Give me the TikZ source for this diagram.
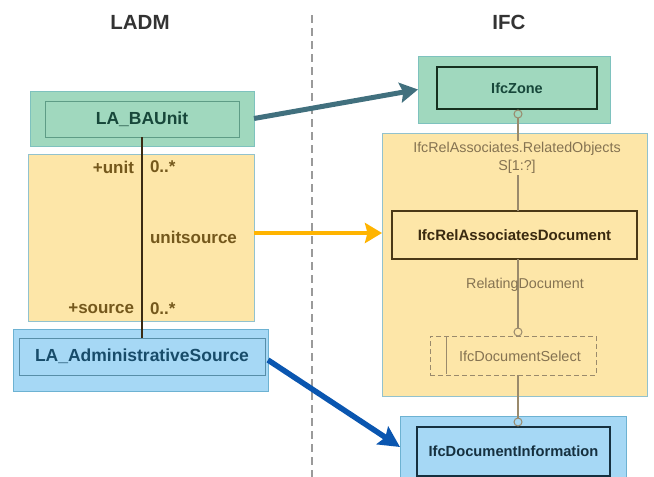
\documentclass[tikz,border=0pt]{standalone}
\usepackage{fontspec}
\setmainfont{Liberation Sans}
\usetikzlibrary{arrows.meta,fit}

\definecolor{ladmgreen}{HTML}{A0D8BE}
\definecolor{greenedge}{HTML}{7EC2BE}
\definecolor{greeninneredge}{HTML}{5E9C86}
\definecolor{greentext}{HTML}{17473A}
\definecolor{zoneedge}{HTML}{16301F}
\definecolor{assocyellow}{HTML}{FDE6A8}
\definecolor{yellowedge}{HTML}{92C2CE}
\definecolor{assoctextcol}{HTML}{74581C}
\definecolor{assocline}{HTML}{3A2A12}
\definecolor{ladmblue}{HTML}{A6D8F5}
\definecolor{blueedge}{HTML}{6DB2D2}
\definecolor{bluetext}{HTML}{184C6A}
\definecolor{infoedge}{HTML}{15303F}
\definecolor{ifctext}{HTML}{857352}
\definecolor{ifcline}{HTML}{9A8A6C}
\definecolor{reledge}{HTML}{4A3816}
\definecolor{reltext}{HTML}{3A2A10}
\definecolor{titlecol}{HTML}{333333}
\definecolor{dividercol}{HTML}{9A9A9A}
\definecolor{tealarrow}{HTML}{41707E}
\definecolor{orangearrow}{HTML}{FFB400}
\definecolor{bluearrow}{HTML}{0A56B0}

\begin{document}
\begin{tikzpicture}[x=1pt,y=-1pt,
  every node/.style={inner sep=0pt, outer sep=0pt},
  titletext/.style={font=\fontsize{20.5}{24}\selectfont\bfseries, text=titlecol},
  divider/.style={draw=dividercol, line width=1.3pt, dash pattern=on 8pt off 5pt},
  greenouter/.style={draw=greenedge, fill=ladmgreen, line width=0.8pt},
  greeninner/.style={draw=greeninneredge, line width=0.8pt, font=\fontsize{17.5}{20}\selectfont\bfseries, text=greentext},
  zoneinner/.style={draw=zoneedge, line width=2pt, font=\fontsize{14.5}{17}\selectfont\bfseries, text=greentext},
  yellowarea/.style={draw=yellowedge, fill=assocyellow, line width=0.8pt},
  roletext/.style={font=\fontsize{17}{20}\selectfont\bfseries, text=assoctextcol},
  blueouter/.style={draw=blueedge, fill=ladmblue, line width=0.8pt},
  blueinner/.style={draw=blueedge!80!black, line width=0.8pt, font=\fontsize{17.5}{20}\selectfont\bfseries, text=bluetext},
  infoinner/.style={draw=infoedge, line width=2pt, font=\fontsize{14.7}{17}\selectfont\bfseries, text=infoedge},
  relbox/.style={draw=reledge, line width=2pt, font=\fontsize{15}{18}\selectfont\bfseries, text=reltext},
  ifclabel/.style={font=\fontsize{14.3}{18}\selectfont, text=ifctext},
  selectbox/.style={draw=ifcline, line width=1pt, dash pattern=on 5pt off 3pt, font=\fontsize{14.5}{17}\selectfont, text=ifctext},
  port/.style={circle, draw=ifcline, line width=1pt, minimum size=8pt},
  ifcconn/.style={draw=ifcline, line width=1.2pt},
  assocconn/.style={draw=assocline, line width=2.6pt},
  tealmap/.style={draw=tealarrow, line width=5pt, -{Stealth[length=18pt,width=20pt,inset=3pt]}},
  orangemap/.style={draw=orangearrow, line width=4pt, -{Stealth[length=17pt,width=20pt,inset=2.5pt]}},
  bluemap/.style={draw=bluearrow, line width=5.5pt, -{Stealth[length=21pt,width=21pt,inset=3.5pt]}}
]
\useasboundingbox (0,0) rectangle (654,477);
\clip (0,0) rectangle (654,477);
\fill[white] (0,0) rectangle (654,477);

% column headings and separator
\node[titletext] (ladm) at (140,22) {LADM};
\node[titletext] (ifc) at (509,22) {IFC};
\coordinate (divtop) at (312,15);
\coordinate (divbot) at (312,477);
\draw[divider] (divtop) -- (divbot);

% ---------- LADM side ----------
\node[greenouter, fit={(30,91)(254,146)}] (baunitouter) {};
\node[greeninner, fit={(45,101)(239,137)}] (baunit) {};
\node[greeninner, draw=none] (baunitlabel) at (baunit.center) {LA\_BAUnit};

\node[yellowarea, fit={(28,154)(254,321)}] (assoc) {};

\node[blueouter, fit={(13,329)(268,391)}] (adminouter) {};
\node[blueinner, fit={(19,338)(265,375)}] (admin) {};
\node[blueinner, draw=none] (adminlabel) at (admin.center) {LA\_AdministrativeSource};

% association unitsource
\draw[assocconn] (baunit.south) -- (admin.north);
\node[roletext, anchor=east] (unitrole) at (134,167) {+unit};
\node[roletext, anchor=west] (unitmult) at (150,167) {0..*};
\node[roletext, anchor=west] (assocname) at (150,237) {unitsource};
\node[roletext, anchor=east] (sourcerole) at (134,309) {+source};
\node[roletext, anchor=west] (sourcemult) at (150,309) {0..*};

% ---------- IFC side ----------
\node[greenouter, fit={(418,56)(610,123)}] (zoneouter) {};
\node[zoneinner, fit={(437,67)(597,109)}] (zone) {};
\node[zoneinner, draw=none] (zonelabel) at (zone.center) {IfcZone};

\node[yellowarea, fit={(382,133)(647,396)}] (ifcbox) {};
\node[relbox, fit={(392,211)(637,259)}] (relassoc) {};
\node[relbox, draw=none] (relassoclabel) at (relassoc.center) {IfcRelAssociatesDocument};

\node[blueouter, fit={(400,416)(626,478)}] (infoouter) {};
\node[infoinner, fit={(417,427)(610,476)}] (info) {};
\node[infoinner, draw=none] (infolabel) at (info.center) {IfcDocumentInformation};

\node[selectbox, fit={(430,336)(596,375)}] (docselect) {};
\node[selectbox, draw=none] (docselectlabel) at (520,356) {IfcDocumentSelect};
\coordinate (selbartop) at (446,336);
\coordinate (selbarbot) at (446,374);
\draw[ifcconn, line width=1pt] (selbartop) -- (selbarbot);

\node[port] (zoneport) at (518,114) {};
\node[port] (docport) at (518,332) {};
\node[port] (infoport) at (518,422) {};

\draw[ifcconn] (zoneport.south) -- (zoneport.south |- relassoc.north);
\node[ifclabel, fill=assocyellow, align=center, inner sep=1pt] (relobjects) at (517,158)
  {IfcRelAssociates.RelatedObjects\\S[1:?]};
\draw[ifcconn] (docport.north |- relassoc.south) -- (docport.north);
\node[ifclabel] (relating) at (525,285) {RelatingDocument};
\draw[ifcconn] (docport.south |- docselect.south) -- (infoport.north);

% ---------- mappings ----------
\draw[tealmap] (baunitouter.east) -- (zoneouter.west);
\coordinate (orangestart) at ([yshift=4.5pt]assoc.east);
\draw[orangemap] (orangestart) -- (orangestart -| ifcbox.west);
\draw[bluemap] (adminouter.east) -- (infoouter.west);
\end{tikzpicture}
\end{document}
